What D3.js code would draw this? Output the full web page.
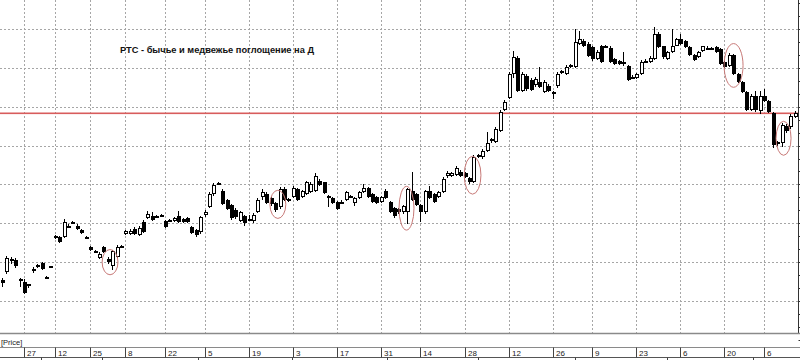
<!DOCTYPE html>
<html><head><meta charset="utf-8">
<script src="https://cdn.jsdelivr.net/npm/d3@7"></script>
<style>body{margin:0;background:#fff}svg{display:block}</style>
</head><body><svg id="c" width="800" height="360"></svg>
<script>
// ---- data ----
const title = "РТС - бычье и медвежье поглощение на Д";
const priceLabel = "[Price]";
const openP = [1022,1030,1042,1042,1023,1020,1017,1031,1035,1039, 1025,1035,1065,1066,1066,1077,1080,1077,1073,1066, 1056,1050,1044,1056,1043,1036,1045,1056,1069,1069, 1074,1068,1081,1085,1087,1086,1089,1082,1083,1082, 1087,1084,1085,1076,1073,1071,1089,1097,1110,1121, 1113,1104,1099,1094,1082,1088,1084,1082,1092,1107, 1110,1106,1101,1097,1115,1104,1107,1115,1107,1110, 1112,1113,1124,1122,1108,1106,1102,1102,1104,1108, 1101,1106,1112,1116,1110,1107,1102,1113,1102,1096, 1095,1092,1092,1113,1110,1099,1092,1113,1110,1107, 1112,1129,1129,1130,1133,1132,1127,1122,1148,1148, 1154,1165,1164,1175,1197,1209,1234,1250,1216,1232, 1228,1222,1225,1215,1221,1215,1221,1236,1234,1242, 1241,1265,1268,1265,1261,1249,1262,1261,1260,1249, 1247,1246,1242,1231,1230,1234,1247,1246,1249,1275, 1262,1249,1256,1263,1270,1268,1261,1253,1251,1257, 1260,1260,1261,1259,1246,1242,1253,1234,1225,1215, 1197,1211,1196,1211,1206,1194,1163,1163,1180,1179, 1189];
const highP = [1024,1046,1045,1044,1024,1023,1018,1035,1038,1040, 1026,1036,1068,1067,1084,1079,1082,1079,1074,1067, 1057,1052,1050,1057,1045,1053,1058,1058,1073,1074, 1076,1077,1083,1093,1092,1089,1090,1083,1084,1086, 1093,1085,1086,1077,1074,1087,1094,1112,1121,1122, 1115,1105,1100,1096,1093,1089,1089,1091,1106,1115, 1112,1107,1102,1117,1117,1106,1118,1116,1114,1124, 1122,1132,1126,1123,1109,1107,1103,1104,1113,1109, 1107,1113,1120,1117,1111,1108,1108,1115,1103,1097, 1096,1099,1116,1133,1111,1100,1114,1118,1111,1113, 1128,1134,1133,1139,1135,1133,1128,1150,1151,1156, 1174,1168,1179,1197,1207,1236,1257,1252,1236,1234, 1230,1231,1241,1227,1223,1216,1236,1238,1243,1244, 1280,1278,1270,1267,1263,1258,1264,1264,1262,1250, 1248,1256,1243,1233,1235,1248,1249,1252,1282,1277, 1263,1257,1280,1271,1275,1269,1262,1254,1257,1263, 1262,1261,1262,1260,1247,1255,1254,1235,1226,1216, 1213,1216,1216,1218,1207,1195,1165,1183,1182,1192, 1196];
const lowP = [1014,1028,1038,1034,1014,1007,1013,1029,1034,1032, 1023,1034,1064,1060,1065,1075,1079,1073,1069,1064, 1051,1049,1043,1049,1038,1032,1044,1055,1068,1068, 1068,1067,1070,1084,1082,1085,1088,1075,1082,1081, 1080,1080,1080,1069,1066,1069,1086,1096,1108,1120, 1099,1094,1083,1084,1081,1077,1082,1080,1091,1104, 1100,1098,1092,1095,1103,1102,1106,1103,1106,1109, 1111,1112,1118,1110,1097,1100,1094,1100,1103,1107, 1098,1105,1111,1106,1101,1100,1101,1105,1091,1085, 1090,1090,1079,1103,1098,1081,1090,1105,1101,1106, 1111,1127,1128,1129,1128,1127,1120,1121,1147,1146, 1153,1163,1163,1174,1196,1208,1230,1215,1215,1216, 1216,1220,1219,1214,1215,1208,1219,1234,1233,1240, 1240,1264,1261,1251,1247,1248,1245,1260,1245,1243, 1243,1242,1226,1229,1229,1233,1245,1245,1248,1260, 1249,1248,1255,1262,1264,1260,1252,1247,1250,1256, 1258,1259,1255,1243,1240,1241,1233,1224,1214,1196, 1196,1195,1192,1205,1194,1158,1160,1159,1173,1177, 1188];
const closeP = [1019,1044,1043,1036,1022,1008,1015,1033,1037,1033, 1024,1036,1067,1061,1081,1076,1081,1074,1070,1065, 1052,1051,1048,1050,1040,1051,1056,1057,1072,1072, 1069,1075,1071,1090,1083,1088,1089,1076,1083,1085, 1081,1081,1081,1070,1068,1086,1092,1110,1119,1121, 1100,1095,1085,1086,1092,1080,1084,1089,1104,1112, 1101,1100,1094,1115,1104,1105,1116,1104,1113,1122, 1120,1129,1119,1111,1107,1101,1095,1102,1112,1108, 1106,1112,1116,1107,1102,1101,1107,1106,1092,1087, 1092,1098,1115,1104,1099,1092,1113,1106,1102,1112, 1126,1132,1132,1137,1129,1128,1122,1148,1150,1154, 1163,1167,1177,1195,1205,1234,1251,1216,1234,1218, 1217,1229,1220,1225,1216,1215,1234,1237,1241,1243, 1267,1270,1262,1252,1249,1256,1246,1262,1246,1244, 1244,1246,1228,1231,1234,1246,1247,1250,1275,1261, 1251,1256,1263,1270,1265,1261,1253,1248,1256,1262, 1260,1260,1256,1244,1241,1253,1234,1225,1215,1197, 1211,1197,1211,1206,1195,1161,1164,1181,1175,1190, 1194];
// x-axis: candle index of each labelled day and its label
const tickIdx = [5,12,20,28,37,46,56,66,76,86,95,105,115,125,134,144,154,164,173];
const tickLabels = ["27","12","25","8","22","5","19","3","17","31","14","28","12","26","9","23","6","20","6"];
const monthIdx = [8.8,22.8,44.5,65.9,87.4,108,130,151,170.5];
// price grid
const gridValues = [1000,1040,1080,1120,1160,1200,1240,1280];
const refLevel = 1194;
// engulfing pattern marks: candle index range and price range
const markFrom = [22.5,60.6,89.9,104.7,163.7,175.5];
const markTo   = [26.1,64.2,93.3,108.5,168.0,178.9];
const markLo   = [1027,1085,1073,1110,1220,1150];
const markHi   = [1053,1114,1118,1149,1265,1185];

// ---- drawing ----
const svg = d3.select("#c");
const W = 800, plotBottom = 333, axisX = 798.5;
const x = d3.scaleLinear().domain([0, openP.length - 1]).range([2, 794.9]);
const y = d3.scaleLinear().domain([1000, 1280]).range([301, 29]);
const px = v => Math.round(v) + 0.5;

svg.append("rect").attr("width", W).attr("height", 360).attr("fill", "#fff");

const grid = svg.append("g").attr("stroke", "#a6a6a6").attr("stroke-dasharray", "2,2").attr("stroke-width", 1);
grid.selectAll("line.h").data(gridValues).join("line").attr("class", "h")
  .attr("x1", 0).attr("x2", axisX).attr("y1", d => px(y(d))).attr("y2", d => px(y(d)));
grid.selectAll("line.v").data(tickIdx).join("line").attr("class", "v")
  .attr("x1", d => px(x(d))).attr("x2", d => px(x(d))).attr("y1", 0).attr("y2", plotBottom);

// reference level
const refY = y(refLevel);
svg.append("rect").attr("x", 0).attr("y", Math.round(refY) - 0.5).attr("width", axisX).attr("height", 1.6)
  .attr("fill", "#d85c5c");

// title
svg.append("text").attr("x", 120).attr("y", 53).text(title)
  .attr("font-family", "Liberation Sans, Arial, sans-serif").attr("font-weight", "bold")
  .attr("font-size", 8.8).attr("fill", "#111").attr("textLength", 194).attr("lengthAdjust", "spacingAndGlyphs");

// candles
const data = openP.map((o, i) => ({i, o, h: highP[i], l: lowP[i], c: closeP[i]}));
const cg = svg.append("g");
const candle = cg.selectAll("g").data(data).join("g");
candle.append("line")
  .attr("x1", d => Math.round(x(d.i)) + 0.5).attr("x2", d => Math.round(x(d.i)) + 0.5)
  .attr("y1", d => Math.round(y(d.h))).attr("y2", d => Math.round(y(d.l)))
  .attr("stroke", "#000").attr("stroke-width", 1);
candle.append("rect")
  .attr("x", d => Math.round(x(d.i)) - 0.5)
  .attr("width", 3)
  .attr("y", d => Math.round(y(Math.max(d.o, d.c))) + 0.5)
  .attr("height", d => Math.max(1, Math.round(y(Math.min(d.o, d.c))) - Math.round(y(Math.max(d.o, d.c))) - 1))
  .attr("fill", d => d.c >= d.o ? "#fff" : "#000")
  .attr("stroke", "#000").attr("stroke-width", 1);

// ellipses
const marks = markFrom.map((f, k) => ({f, t: markTo[k], lo: markLo[k], hi: markHi[k]}));
svg.append("g").selectAll("ellipse").data(marks).join("ellipse")
  .attr("cx", d => (x(d.f) + x(d.t)) / 2 + 1).attr("cy", d => (y(d.lo) + y(d.hi)) / 2)
  .attr("rx", d => (x(d.t) - x(d.f)) / 2).attr("ry", d => (y(d.lo) - y(d.hi)) / 2)
  .attr("fill", "none").attr("stroke", "#c87a78").attr("stroke-width", 1);

// right axis with small ticks
svg.append("line").attr("x1", axisX).attr("x2", axisX).attr("y1", 0).attr("y2", plotBottom).attr("stroke", "#333");
const minor = d3.range(1000 - 40, 1320 + 1, 40 / 3);
svg.append("g").selectAll("line").data(minor).join("line")
  .attr("x1", axisX).attr("x2", 800).attr("y1", d => px(y(d))).attr("y2", d => px(y(d))).attr("stroke", "#333");

// bottom frame
svg.append("line").attr("x1", 0).attr("x2", W).attr("y1", 333.5).attr("y2", 333.5).attr("stroke", "#8a8a8a").attr("stroke-width", 1.5);
svg.append("text").attr("x", 1).attr("y", 344.5).text(priceLabel)
  .attr("font-family", "Liberation Sans, Arial, sans-serif").attr("font-size", 7.5).attr("fill", "#222");
svg.append("line").attr("x1", 0).attr("x2", W).attr("y1", 347.5).attr("y2", 347.5).attr("stroke", "#8a8a8a");
svg.append("line").attr("x1", 0).attr("x2", W).attr("y1", 357.5).attr("y2", 357.5).attr("stroke", "#555");

const xa = svg.append("g");
xa.selectAll("line").data(tickIdx).join("line")
  .attr("x1", d => px(x(d))).attr("x2", d => px(x(d))).attr("y1", 347.5).attr("y2", 357.5).attr("stroke", "#444");
xa.selectAll("text").data(tickIdx).join("text")
  .attr("x", d => Math.round(x(d)) + 3).attr("y", 356).text((d, k) => tickLabels[k])
  .attr("font-family", "Liberation Sans, Arial, sans-serif").attr("font-size", 8).attr("fill", "#222");
svg.append("g").selectAll("line").data(monthIdx).join("line")
  .attr("x1", d => px(x(d))).attr("x2", d => px(x(d))).attr("y1", 357.5).attr("y2", 360).attr("stroke", "#444");
</script></body></html>
